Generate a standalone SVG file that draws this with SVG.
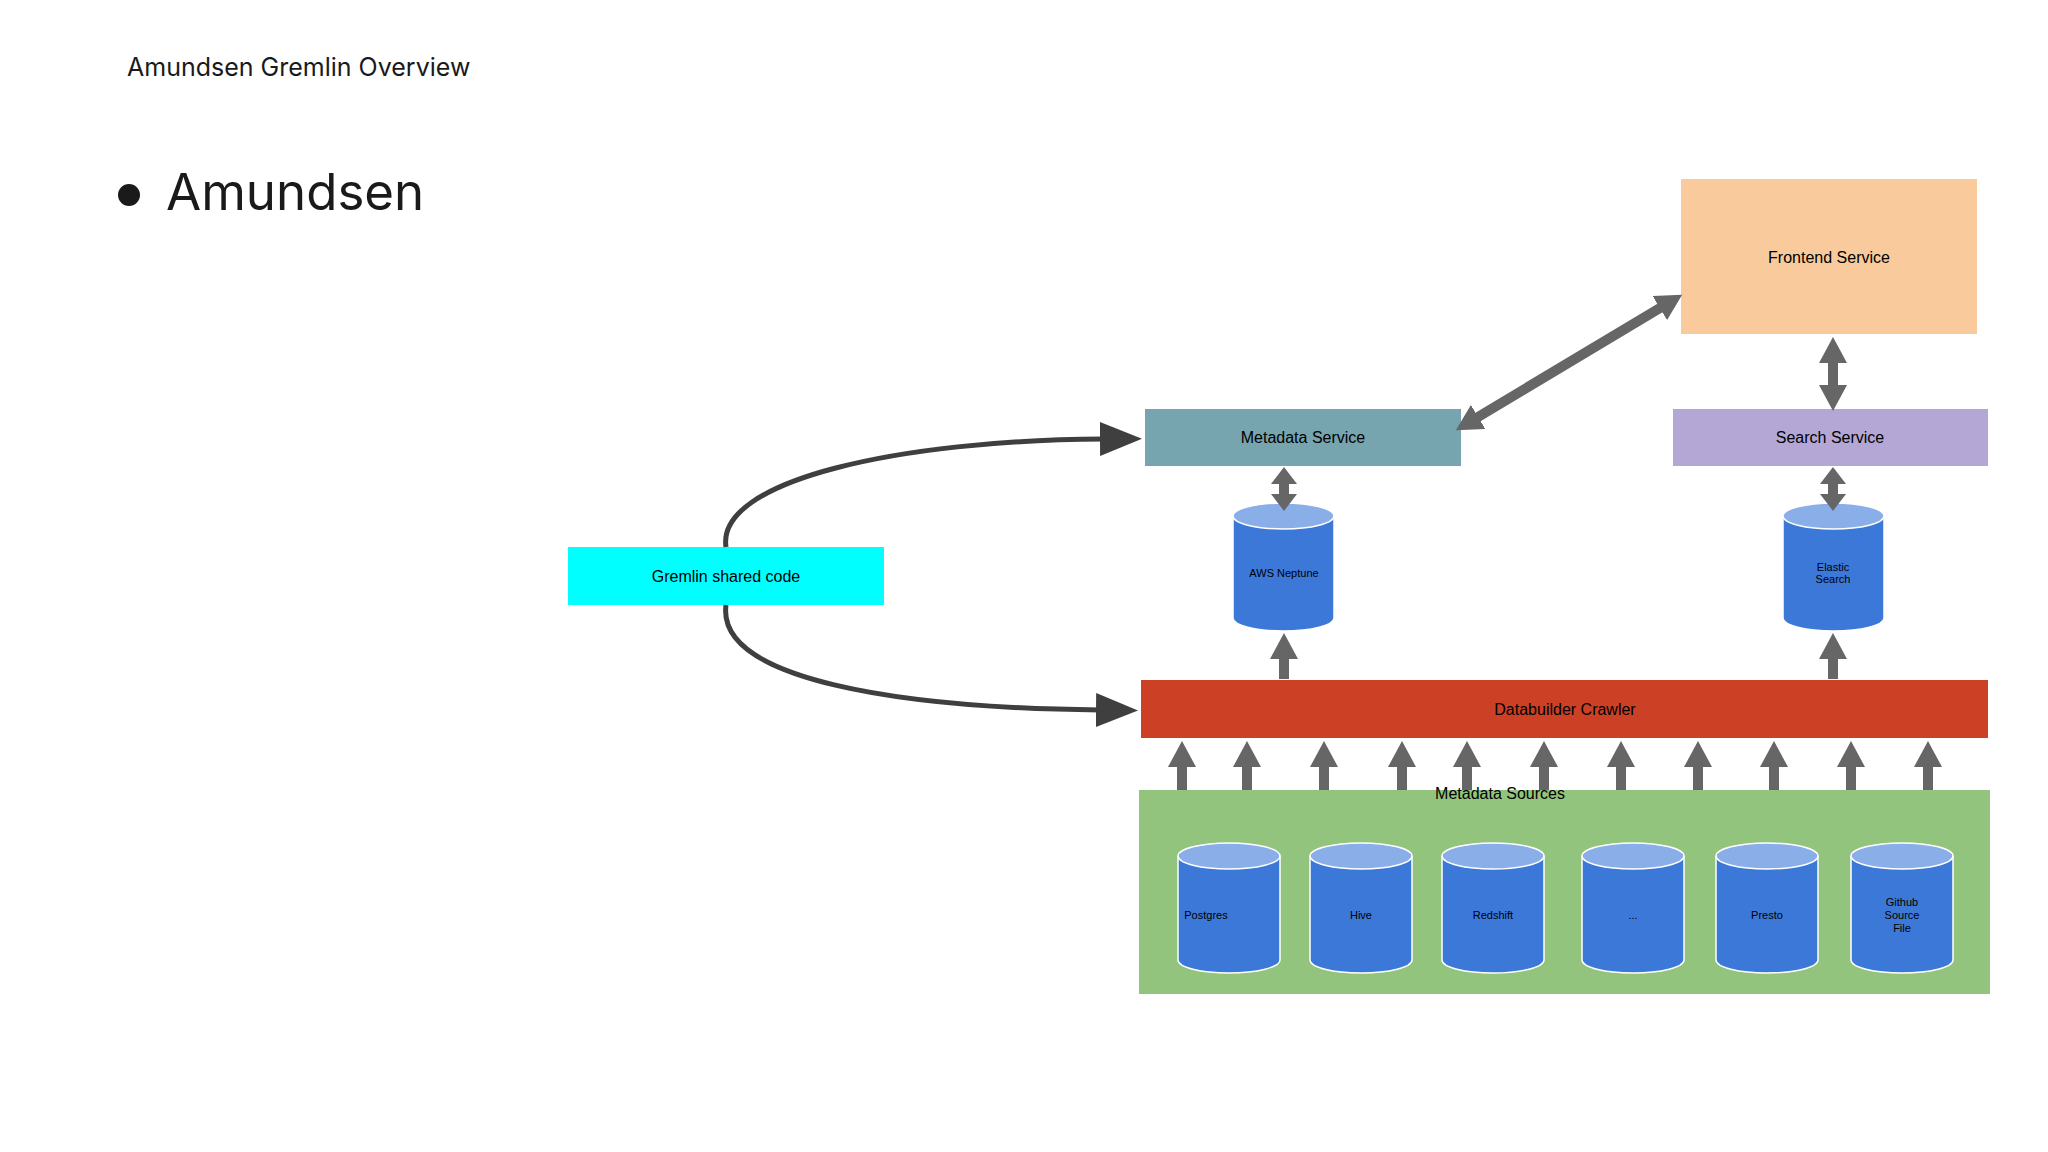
<svg xmlns="http://www.w3.org/2000/svg" width="2048" height="1152" viewBox="0 0 2048 1152">
<style>
.t{font-family:"Liberation Sans",Arial,sans-serif;fill:#000;text-anchor:middle}
.n{font-size:16px}
.c{font-size:11px}
.cyl{fill:#3c78d8;stroke:#fff;stroke-width:1.5}
.top{fill:#8aaee8;stroke:#fff;stroke-width:1.5}
.ba{stroke:#666;stroke-width:10;fill:none}
.cv{stroke:#3f3f3f;stroke-width:5;fill:none}
</style>
<defs>
<marker id="ah" markerUnits="userSpaceOnUse" markerWidth="28" markerHeight="28" refX="6" refY="14" orient="auto-start-reverse"><path d="M0,0 L26,14 L0,28 z" fill="#666"/></marker>
<marker id="ah2" markerUnits="userSpaceOnUse" markerWidth="18" markerHeight="26" refX="3" refY="13" orient="auto-start-reverse"><path d="M0,0 L17,13 L0,26 z" fill="#666"/></marker>
<marker id="ch" markerUnits="userSpaceOnUse" markerWidth="44" markerHeight="34" refX="4" refY="17" orient="auto"><path d="M0,0 L42,17 L0,34 z" fill="#3f3f3f"/></marker>
</defs>
<rect width="2048" height="1152" fill="#fff"/>
<text x="127" y="76" font-family="Inter,'Liberation Sans',sans-serif" font-size="25" fill="#1a1a1a">Amundsen Gremlin Overview</text>
<circle cx="129" cy="195" r="11" fill="#1a1a1a"/>
<text x="166" y="210" font-family="Inter,'Liberation Sans',sans-serif" font-size="51" fill="#1a1a1a">Amundsen</text>

<g id="frontend"><rect x="1681" y="179" width="296" height="155" fill="#f9cb9c"/><text class="t n" x="1829" y="263">Frontend Service</text></g>
<g id="metadata"><rect x="1145" y="409" width="316" height="57" fill="#76a5af"/><text class="t n" x="1303" y="443">Metadata Service</text></g>
<g id="search"><rect x="1673" y="409" width="315" height="57" fill="#b4a7d6"/><text class="t n" x="1830" y="443">Search Service</text></g>
<g id="gremlin"><rect x="568" y="547" width="316" height="58" fill="#00ffff"/><text class="t n" x="726" y="582">Gremlin shared code</text></g>
<g id="crawler"><rect x="1141" y="680" width="847" height="58" fill="#cc4125"/><text class="t n" x="1565" y="715">Databuilder Crawler</text></g>
<g id="sources"><rect x="1139" y="790" width="851" height="204" fill="#93c47d"/><text class="t n" x="1500" y="799">Metadata Sources</text></g>

<g id="neptune"><path class="cyl" d="M1233,516 V618 A50.5,13 0 0 0 1334,618 V516"/><ellipse class="top" cx="1283.5" cy="516" rx="50.5" ry="13"/><text class="t c" x="1284" y="577">AWS Neptune</text></g>
<g id="elastic"><path class="cyl" d="M1783,516 V618 A50.5,13 0 0 0 1884,618 V516"/><ellipse class="top" cx="1833.5" cy="516" rx="50.5" ry="13"/><text class="t c" x="1833" y="571">Elastic</text><text class="t c" x="1833" y="583">Search</text></g>

<g id="postgres"><path class="cyl" d="M1178,856 V960 A51,13 0 0 0 1280,960 V856"/><ellipse class="top" cx="1229" cy="856" rx="51" ry="13"/><text class="t c" x="1206" y="919">Postgres</text></g>
<g id="hive"><path class="cyl" d="M1310,856 V960 A51,13 0 0 0 1412,960 V856"/><ellipse class="top" cx="1361" cy="856" rx="51" ry="13"/><text class="t c" x="1361" y="919">Hive</text></g>
<g id="redshift"><path class="cyl" d="M1442,856 V960 A51,13 0 0 0 1544,960 V856"/><ellipse class="top" cx="1493" cy="856" rx="51" ry="13"/><text class="t c" x="1493" y="919">Redshift</text></g>
<g id="etc"><path class="cyl" d="M1582,856 V960 A51,13 0 0 0 1684,960 V856"/><ellipse class="top" cx="1633" cy="856" rx="51" ry="13"/><text class="t c" x="1633" y="919">...</text></g>
<g id="presto"><path class="cyl" d="M1716,856 V960 A51,13 0 0 0 1818,960 V856"/><ellipse class="top" cx="1767" cy="856" rx="51" ry="13"/><text class="t c" x="1767" y="919">Presto</text></g>
<g id="github"><path class="cyl" d="M1851,856 V960 A51,13 0 0 0 1953,960 V856"/><ellipse class="top" cx="1902" cy="856" rx="51" ry="13"/><text class="t c" x="1902" y="906">Github</text><text class="t c" x="1902" y="919">Source</text><text class="t c" x="1902" y="932">File</text></g>

<g id="connectors">
<line class="ba" x1="1182" y1="790" x2="1182" y2="761" marker-end="url(#ah)"/>
<line class="ba" x1="1247" y1="790" x2="1247" y2="761" marker-end="url(#ah)"/>
<line class="ba" x1="1324" y1="790" x2="1324" y2="761" marker-end="url(#ah)"/>
<line class="ba" x1="1402" y1="790" x2="1402" y2="761" marker-end="url(#ah)"/>
<line class="ba" x1="1467" y1="790" x2="1467" y2="761" marker-end="url(#ah)"/>
<line class="ba" x1="1544" y1="790" x2="1544" y2="761" marker-end="url(#ah)"/>
<line class="ba" x1="1621" y1="790" x2="1621" y2="761" marker-end="url(#ah)"/>
<line class="ba" x1="1698" y1="790" x2="1698" y2="761" marker-end="url(#ah)"/>
<line class="ba" x1="1774" y1="790" x2="1774" y2="761" marker-end="url(#ah)"/>
<line class="ba" x1="1851" y1="790" x2="1851" y2="761" marker-end="url(#ah)"/>
<line class="ba" x1="1928" y1="790" x2="1928" y2="761" marker-end="url(#ah)"/>
<line class="ba" x1="1284" y1="679" x2="1284" y2="653" marker-end="url(#ah)"/>
<line class="ba" x1="1833" y1="679" x2="1833" y2="653" marker-end="url(#ah)"/>
<line class="ba" x1="1284" y1="481" x2="1284" y2="497" marker-start="url(#ah2)" marker-end="url(#ah2)"/>
<line class="ba" x1="1833" y1="481" x2="1833" y2="497" marker-start="url(#ah2)" marker-end="url(#ah2)"/>
<line class="ba" x1="1833" y1="357" x2="1833" y2="391" marker-start="url(#ah)" marker-end="url(#ah)"/>
<line class="ba" x1="1473" y1="420" x2="1665" y2="305" marker-start="url(#ah)" marker-end="url(#ah)"/>
<path class="cv" d="M726,547 C716,480 900,440 1104,439" marker-end="url(#ch)"/>
<path class="cv" d="M726,605 C716,680 900,708 1100,710" marker-end="url(#ch)"/>
</g>
</svg>
